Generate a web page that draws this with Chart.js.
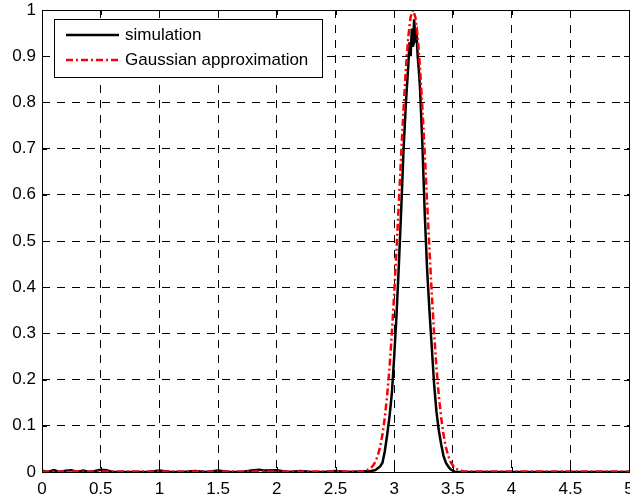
<!DOCTYPE html>
<html>
<head>
<meta charset="utf-8">
<script src="https://cdn.jsdelivr.net/npm/chart.js@4/dist/chart.umd.min.js"></script>
<style>
  html, body { margin: 0; padding: 0; background: #fff; }
  #wrap { width: 630px; height: 499px; }
</style>
</head>
<body>
<div id="wrap"><canvas id="pdf"></canvas></div>
<script>
// simulation (noisy histogram estimate)
const simX = [0, 0.05, 0.1, 0.15, 0.2, 0.25, 0.3, 0.35, 0.4, 0.45, 0.5, 0.55, 0.6, 0.65, 0.7,
  0.8, 0.9, 1.0, 1.1, 1.2, 1.3, 1.4, 1.5, 1.6, 1.7, 1.8, 1.85, 1.9, 2.0, 2.1, 2.2, 2.3, 2.4, 2.5,
  2.6, 2.7, 2.8, 2.84, 2.86, 2.88, 2.9, 2.92, 2.94, 2.96, 2.98, 3.0, 3.02, 3.04, 3.06, 3.08,
  3.1, 3.12, 3.13, 3.14, 3.15, 3.16, 3.17, 3.18, 3.19, 3.2, 3.21, 3.22, 3.24, 3.26, 3.28,
  3.3, 3.32, 3.34, 3.36, 3.38, 3.4, 3.42, 3.44, 3.46, 3.48, 3.5, 3.52, 3.7, 4.0, 4.5, 5.0];
const simY = [0.003, 0.0, 0.004, 0.0, 0.003, 0.004, 0.0, 0.003, 0.0, 0.002, 0.005, 0.004, 0.0, 0.0, 0.0,
  0.0, 0.0, 0.003, 0.0, 0.0, 0.002, 0.0, 0.003, 0.0, 0.0, 0.004, 0.005, 0.003, 0.004, 0.0, 0.002, 0.0, 0.0, 0.002,
  0.0, 0.001, 0.002, 0.004, 0.008, 0.012, 0.02, 0.045, 0.08, 0.12, 0.17, 0.25, 0.34, 0.45, 0.57, 0.7,
  0.8, 0.88, 0.93, 0.9, 0.96, 0.92, 0.98, 0.94, 0.95, 0.9, 0.87, 0.83, 0.71, 0.56, 0.44,
  0.35, 0.27, 0.19, 0.13, 0.09, 0.06, 0.035, 0.02, 0.012, 0.006, 0.003, 0.0, 0.0, 0.0, 0.0, 0.0];

// Gaussian approximation
const gaussX = [0, 1, 2, 2.5, 2.72, 2.76, 2.8, 2.82, 2.84, 2.86, 2.88, 2.9, 2.92, 2.94, 2.96, 2.98,
  3.0, 3.02, 3.04, 3.06, 3.08, 3.1, 3.12, 3.14, 3.16, 3.18, 3.2, 3.22, 3.24, 3.26, 3.28, 3.3,
  3.32, 3.34, 3.36, 3.38, 3.4, 3.42, 3.44, 3.46, 3.48, 3.5, 3.52, 3.56, 3.6, 4, 5];
const gaussY = [0.001, 0.001, 0.001, 0.001, 0.001, 0.003, 0.008, 0.014, 0.022, 0.035, 0.054, 0.081, 0.118, 0.165, 0.226, 0.3,
  0.386, 0.483, 0.586, 0.69, 0.788, 0.875, 0.942, 0.985, 1.0, 0.985, 0.942, 0.875, 0.788, 0.69, 0.586, 0.483,
  0.386, 0.3, 0.226, 0.165, 0.118, 0.081, 0.054, 0.035, 0.022, 0.014, 0.008, 0.003, 0.001, 0.001, 0.001];

const xTicks = [0, 0.5, 1, 1.5, 2, 2.5, 3, 3.5, 4, 4.5, 5];
const yTicks = [0, 0.1, 0.2, 0.3, 0.4, 0.5, 0.6, 0.7, 0.8, 0.9, 1];

const FONT = '"Liberation Sans", Arial, sans-serif';

function toPoints(xs, ys) {
  return xs.map((x, i) => ({ x: x, y: ys[i] }));
}

// box, inward ticks and the boxed legend, matlab style
const matlabFrame = {
  id: 'matlabFrame',
  afterDraw(chart) {
    const ctx = chart.ctx;
    const a = chart.chartArea;
    const xs = chart.scales.x, ys = chart.scales.y;
    ctx.save();
    ctx.strokeStyle = '#000';
    ctx.lineWidth = 1;
    ctx.setLineDash([]);
    ctx.beginPath();
    xTicks.forEach(v => {
      const px = Math.round(xs.getPixelForValue(v)) + 0.5;
      ctx.moveTo(px, a.bottom); ctx.lineTo(px, a.bottom - 5);
      ctx.moveTo(px, a.top); ctx.lineTo(px, a.top + 5);
    });
    yTicks.forEach(v => {
      const py = Math.round(ys.getPixelForValue(v)) + 0.5;
      ctx.moveTo(a.left, py); ctx.lineTo(a.left + 5, py);
      ctx.moveTo(a.right, py); ctx.lineTo(a.right - 5, py);
    });
    ctx.stroke();
    ctx.strokeRect(Math.round(a.left) + 0.5, Math.round(a.top) + 0.5,
      Math.round(a.right - a.left), Math.round(a.bottom - a.top));

    // legend
    const lx = 54.5, ly = 19.5, lw = 268, lh = 58;
    ctx.fillStyle = '#fff';
    ctx.fillRect(lx, ly, lw, lh);
    ctx.strokeRect(lx, ly, lw, lh);
    ctx.font = '17px ' + FONT;
    ctx.textBaseline = 'middle';
    chart.data.datasets.forEach((ds, i) => {
      const y = 35 + i * 25;
      ctx.strokeStyle = ds.borderColor;
      ctx.lineWidth = ds.borderWidth;
      ctx.setLineDash(ds.borderDash || []);
      ctx.beginPath();
      ctx.moveTo(66, y); ctx.lineTo(119, y);
      ctx.stroke();
      ctx.setLineDash([]);
      ctx.fillStyle = '#000';
      ctx.fillText(ds.label, 125, y);
    });
    ctx.restore();
  }
};

new Chart(document.getElementById('pdf'), {
  type: 'line',
  data: {
    datasets: [
      {
        label: 'simulation',
        data: toPoints(simX, simY),
        borderColor: '#000',
        borderWidth: 2.5,
        pointRadius: 0,
        tension: 0,
        order: 1
      },
      {
        label: 'Gaussian approximation',
        data: toPoints(gaussX, gaussY),
        borderColor: '#ff0000',
        borderWidth: 2.5,
        borderDash: [7, 3, 2, 3],
        pointRadius: 0,
        tension: 0,
        order: 0   // red drawn over the black curve
      }
    ]
  },
  plugins: [matlabFrame],
  options: {
    responsive: true,
    maintainAspectRatio: false,
    animation: false,
    layout: { padding: { top: 10, right: 1, left: 0, bottom: 0 } },
    plugins: { legend: { display: false }, tooltip: { enabled: false } },
    scales: {
      x: {
        type: 'linear',
        min: 0, max: 5,
        afterBuildTicks: s => { s.ticks = xTicks.map(v => ({ value: v })); },
        afterFit: s => { s.height = 27; s.paddingLeft = 0; s.paddingRight = 0; },
        ticks: {
          color: '#000', font: { family: FONT, size: 17 }, padding: 7,
          maxRotation: 0, autoSkip: false,
          callback: v => String(v)
        },
        grid: { color: '#000', lineWidth: 1, drawTicks: false },
        border: { display: false, dash: [8, 7] }
      },
      y: {
        min: 0, max: 1,
        afterBuildTicks: s => { s.ticks = yTicks.map(v => ({ value: v })); },
        afterFit: s => { s.width = 42; s.paddingTop = 0; s.paddingBottom = 0; },
        ticks: {
          color: '#000', font: { family: FONT, size: 17 }, padding: 6,
          autoSkip: false,
          callback: v => String(Math.round(v * 10) / 10)
        },
        grid: { color: '#000', lineWidth: 1, drawTicks: false },
        border: { display: false, dash: [8, 7] }
      }
    }
  }
});
</script>
</body>
</html>
